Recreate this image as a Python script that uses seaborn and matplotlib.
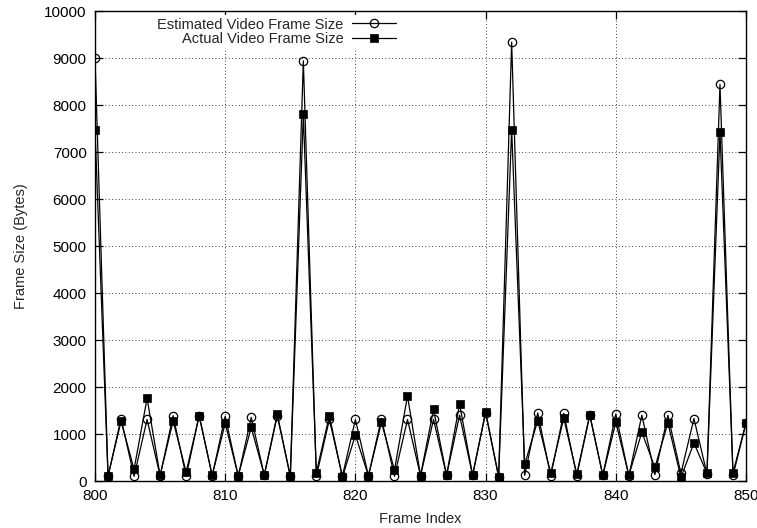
import numpy as np
import pandas as pd
import matplotlib
matplotlib.use("Agg")
import matplotlib.pyplot as plt
import seaborn as sns

# Frame indices 800..850
frames = list(range(800, 851))

# Estimated video frame size (bytes)
estimated = [9000, 100, 1330, 100, 1310, 110, 1390, 100, 1390, 110,
             1380, 100, 1355, 120, 1390, 100, 8940, 100, 1310, 100,
             1310, 110, 1330, 100, 1310, 110, 1310, 120, 1400, 120,
             1450, 90, 9340, 120, 1450, 110, 1440, 110, 1400, 120,
             1425, 110, 1400, 135, 1400, 160, 1330, 150, 8440, 120,
             1230]

# Actual video frame size (bytes)
actual = [7480, 110, 1270, 250, 1760, 120, 1280, 190, 1390, 120,
          1230, 110, 1140, 130, 1420, 100, 7800, 180, 1390, 80,
          980, 110, 1250, 235, 1810, 115, 1525, 125, 1640, 125,
          1475, 90, 7480, 355, 1280, 165, 1335, 150, 1410, 120,
          1250, 120, 1040, 290, 1235, 75, 810, 165, 7420, 175,
          1240]

x_ticks = [800, 810, 820, 830, 840, 850]
y_ticks = list(range(0, 10001, 1000))

df = pd.DataFrame({"frame": frames, "estimated": estimated, "actual": actual})

sns.set_style("ticks")
plt.rcParams["font.family"] = ["Liberation Sans", "DejaVu Sans"]

fig = plt.figure(figsize=(7.57, 5.28), dpi=100)
ax = fig.add_axes([0.1255, 0.089, 0.86, 0.890])

sns.lineplot(data=df, x="frame", y="estimated", ax=ax, color="black",
             linewidth=0.9, marker="o", markersize=6.0, markerfacecolor="none",
             markeredgecolor="black", markeredgewidth=0.9,
             label="Estimated Video Frame Size")
sns.lineplot(data=df, x="frame", y="actual", ax=ax, color="black",
             linewidth=0.9, marker="s", markersize=6.0, markerfacecolor="black",
             markeredgecolor="black", markeredgewidth=0.5,
             label="Actual Video Frame Size")

ax.set_xlim(800, 850)
ax.set_ylim(0, 10000)
ax.set_xticks(x_ticks)
ax.set_yticks(y_ticks)
ax.set_xticklabels([str(t) for t in x_ticks])
ax.set_yticklabels([str(t) for t in y_ticks])

ax.grid(True, color="black", linestyle=(0, (1, 3)), linewidth=0.6)
ax.set_axisbelow(True)

ax.tick_params(direction="in", length=6, width=0.9, top=True, right=True,
               labelsize=11, colors="black", pad=6)
for side in ax.spines.values():
    side.set_visible(True)
    side.set_color("black")
    side.set_linewidth(1.0)

ax.set_xlabel("Frame Index", fontsize=10.5, labelpad=6)
ax.set_ylabel("Frame Size (Bytes)", fontsize=10.5, labelpad=12)

leg = ax.legend(loc="upper right", bbox_to_anchor=(0.478, 1.008),
                markerfirst=False, fontsize=10.5, handlelength=3.0,
                handletextpad=0.6, labelspacing=0.05, borderpad=0.2,
                frameon=True, fancybox=False, framealpha=1.0)
leg.get_frame().set_edgecolor("none")
leg.get_frame().set_facecolor("white")

fig.savefig("out.png", dpi=100)
